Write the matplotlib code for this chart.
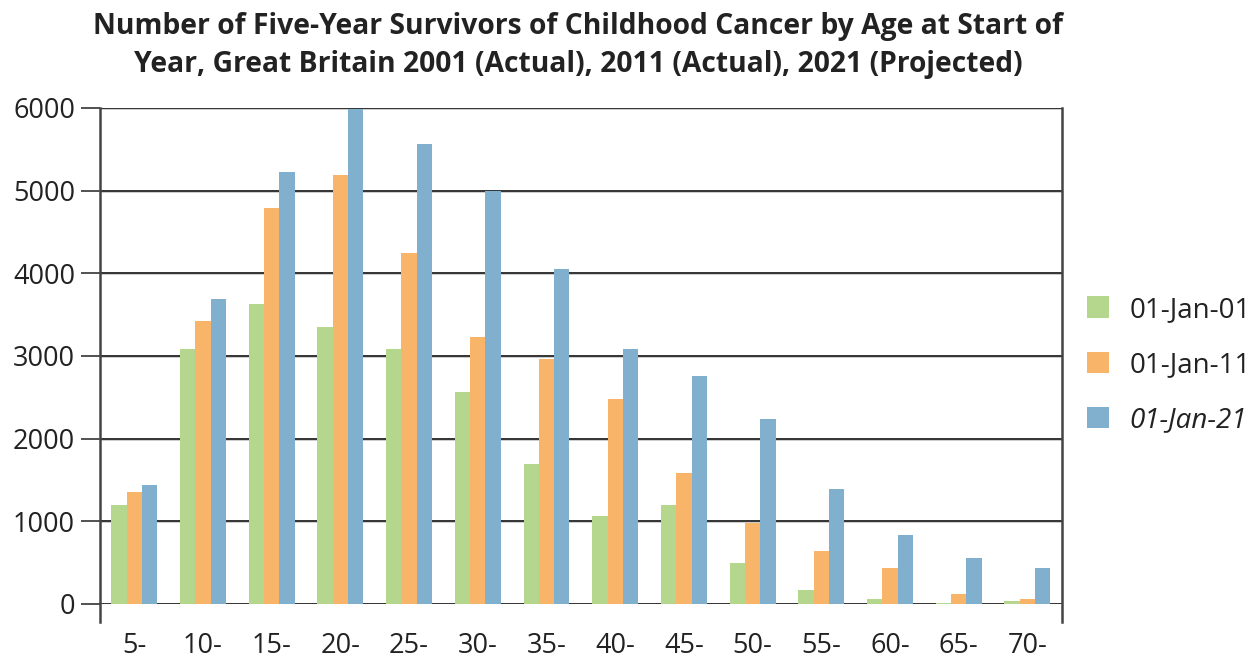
import numpy as np
import matplotlib
matplotlib.use('Agg')
from matplotlib import pyplot as plt
from matplotlib.lines import Line2D

plt.rcParams['font.family'] = ['Open Sans', 'DejaVu Sans']

ages = ['5-', '10-', '15-', '20-', '25-', '30-', '35-', '40-', '45-', '50-', '55-', '60-', '65-', '70-']
jan01 = [1200, 3080, 3625, 3345, 3080, 2560, 1690, 1070, 1200, 500, 165, 55, 16, 30]
jan11 = [1350, 3420, 4785, 5195, 4240, 3225, 2960, 2475, 1580, 980, 645, 430, 115, 55]
jan21 = [1445, 3695, 5230, 5990, 5570, 5000, 4055, 3090, 2755, 2235, 1390, 840, 560, 440]
series_labels = ['01-Jan-01', '01-Jan-11', '01-Jan-21']
colors = ['#b4d78d', '#f8b56a', '#80b0ce']

fig = plt.figure(figsize=(12.54, 6.58), dpi=100)
ax = fig.add_axes([0.0797, 0.0821, 0.767, 0.7538])

x = np.arange(len(ages))
w = 0.223
for i, (vals, c) in enumerate(zip([jan01, jan11, jan21], colors)):
    ax.bar(x + (i - 1) * w, vals, width=w, color=c, zorder=3, label=series_labels[i])

# gridlines: dark line with a light shadow under it
for yv in range(0, 6001, 1000):
    ax.axhline(yv - 14, color='#c8c8c8', lw=1.3, zorder=1)
    ax.axhline(yv, color='#333333', lw=1.4, zorder=2)

ax.set_xlim(-0.5, len(ages) - 0.5)
ax.set_ylim(0, 6000)
ax.set_yticks(range(0, 6001, 1000))
ax.set_xticks(x)
ax.set_xticklabels(ages)
ax.tick_params(axis='x', length=0, pad=20, labelsize=19.5, colors='#222222')
ax.tick_params(axis='y', length=14, width=1.2, color='#333333', pad=4, labelsize=19.5, labelcolor='#222222')

for s in ['top', 'bottom', 'left', 'right']:
    ax.spines[s].set_visible(False)
# side axis lines running a bit below zero
for xs in [0, 1]:
    ax.add_line(Line2D([xs, xs], [-0.036, 1.0], transform=ax.transAxes, color='#444444', lw=1.8, clip_on=False, zorder=4))

fig.suptitle('Number of Five-Year Survivors of Childhood Cancer by Age at Start of\nYear, Great Britain 2001 (Actual), 2011 (Actual), 2021 (Projected)',
             x=0.461, y=0.982, fontsize=20.3, fontweight='bold', color='#222222', linespacing=1.42)

leg = ax.legend(loc='center left', bbox_to_anchor=(1.0, 0.482), frameon=False, fontsize=20,
                handlelength=0.8, handleheight=0.8, handletextpad=0.75, labelspacing=0.98)
for t in leg.get_texts():
    t.set_color('#222222')
leg.get_texts()[2].set_fontstyle('italic')

fig.savefig('out.png', dpi=100)
